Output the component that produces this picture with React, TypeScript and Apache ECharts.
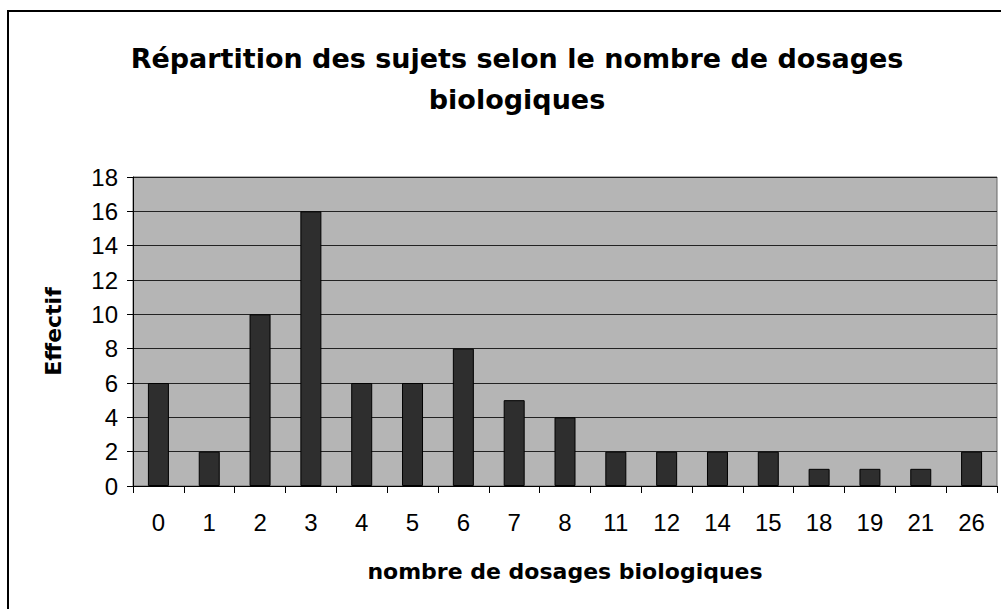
import React, { useEffect, useRef } from "react";
import * as echarts from "echarts";

const categories = ["0", "1", "2", "3", "4", "5", "6", "7", "8", "11", "12", "14", "15", "18", "19", "21", "26"];
const effectif = [6, 2, 10, 16, 6, 6, 8, 5, 4, 2, 2, 2, 2, 1, 1, 1, 2];
const titleText = "Répartition des sujets selon le nombre de dosages\nbiologiques";
const xName = "nombre de dosages biologiques";
const yName = "Effectif";

export default function App() {
  const ref = useRef<HTMLDivElement>(null);
  useEffect(() => {
    document.body.style.margin = "0";
    const chart = echarts.init(ref.current!, null, { renderer: "svg" });
    const font = "'Liberation Sans', Arial, sans-serif";
    const boldFont = "'DejaVu Sans', 'Liberation Sans', sans-serif";
    chart.setOption({
      animation: false,
      backgroundColor: "#ffffff",
      textStyle: { fontFamily: font },
      title: {
        text: titleText,
        left: 512,
        top: 33,
        textAlign: "center",
        textStyle: { fontFamily: boldFont, fontSize: 27, fontWeight: "bold", color: "#000", lineHeight: 41 },
      },
      graphic: [
        { type: "line", shape: { x1: 8, y1: 10, x2: 8, y2: 609 }, style: { stroke: "#000", lineWidth: 2 } },
        { type: "line", shape: { x1: 7, y1: 11, x2: 1001, y2: 11 }, style: { stroke: "#000", lineWidth: 2 } },
      ],
      grid: {
        left: 133,
        right: 4,
        top: 177,
        bottom: 123,
        show: true,
        backgroundColor: "#b5b5b5",
        borderColor: "#666",
        borderWidth: 1,
      },
      xAxis: {
        type: "category",
        data: categories,
        name: xName,
        nameLocation: "middle",
        nameGap: 74,
        nameTextStyle: { fontFamily: boldFont, fontSize: 22, fontWeight: "bold", color: "#000" },
        axisLine: { lineStyle: { color: "#000", width: 1 } },
        axisTick: { show: true, length: 7, inside: false, lineStyle: { color: "#000" } },
        axisLabel: { fontFamily: font, fontSize: 24, color: "#000", margin: 24 },
      },
      yAxis: {
        type: "value",
        min: 0,
        max: 18,
        interval: 2,
        name: yName,
        nameLocation: "middle",
        nameGap: 69,
        nameTextStyle: { fontFamily: boldFont, fontSize: 22, fontWeight: "bold", color: "#000" },
        axisLine: { show: true, lineStyle: { color: "#000", width: 1 } },
        axisTick: { show: true, length: 6, lineStyle: { color: "#000" } },
        axisLabel: { fontFamily: font, fontSize: 24, color: "#000", margin: 15 },
        splitLine: { show: true, lineStyle: { color: "#222", width: 1 } },
      },
      series: [
        {
          type: "bar",
          data: effectif,
          barWidth: 21,
          itemStyle: { color: "#2e2e2e", borderColor: "#000", borderWidth: 1 },
        },
      ],
    });
    return () => chart.dispose();
  }, []);
  return <div ref={ref} style={{ width: 1001, height: 609 }} />;
}
